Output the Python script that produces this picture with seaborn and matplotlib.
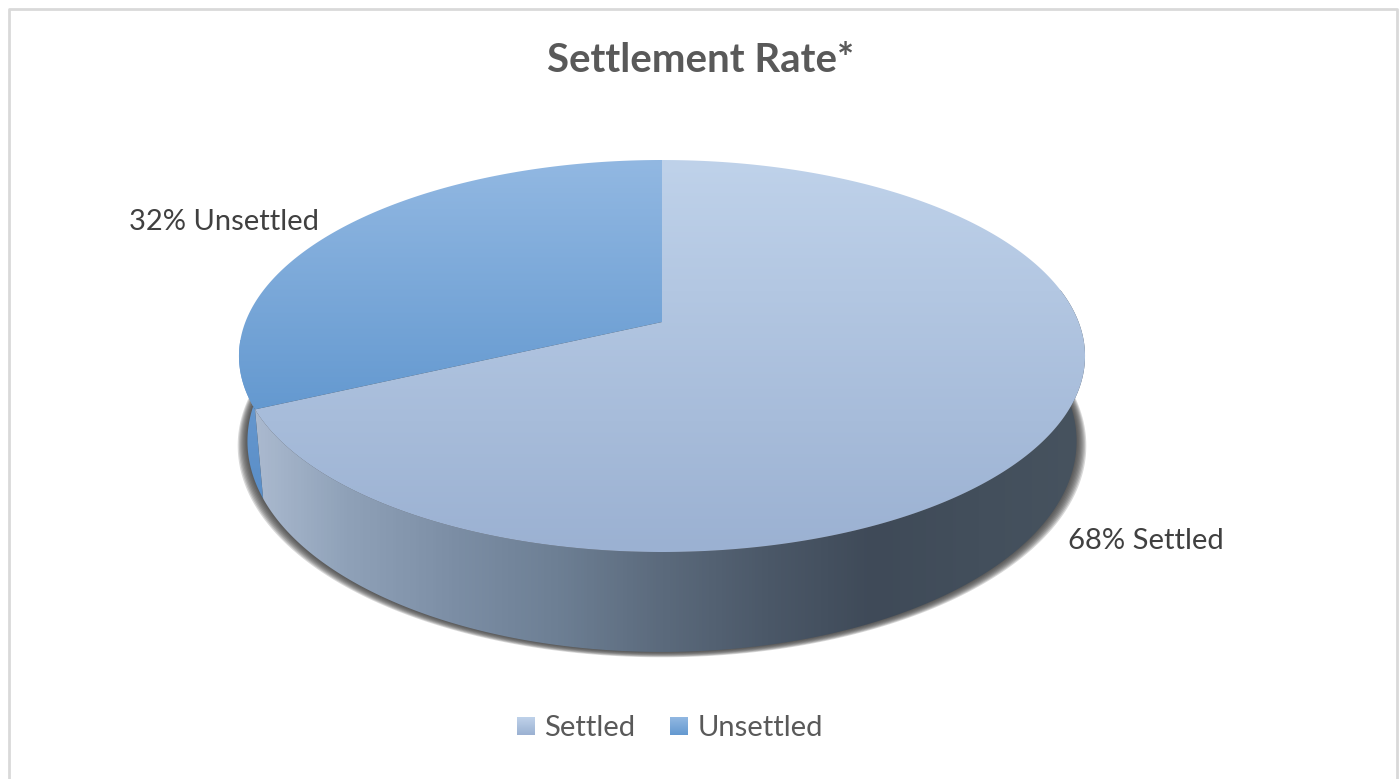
import numpy as np
import matplotlib
matplotlib.use("Agg")
import matplotlib.pyplot as plt
from matplotlib.patches import Polygon, Rectangle
import seaborn as sns

categories = ["Settled", "Unsettled"]
shares = [68, 32]
title = "Settlement Rate*"
data_labels = ["68% Settled", "32% Unsettled"]

sns.set_theme(style="white")
plt.rcParams['font.family'] = ['Lato', 'DejaVu Sans']

# pie geometry in picture pixels
cx, cy = 662, 322
a, b, k = 416.6, 190.1, 0.1735
depth = 82.6
shrink = 0.98


def project(theta, z=0.0, s=1.0):
    # theta runs clockwise from 12 o'clock, z goes down to the pie's underside
    X, Y = np.sin(theta), np.cos(theta)
    w = 1 + k * Y
    return cx + s * a * X / w, cy + (-b * Y + z) / w


def gradient(ax, cmap, extent, clip, vertical=True, z=2):
    ramp = np.linspace(0, 1, 256)
    ramp = ramp[:, None] if vertical else ramp[None, :]
    im = ax.imshow(ramp, cmap=cmap, extent=extent, aspect="auto", origin="upper",
                   interpolation="bilinear", zorder=z)
    clip.set_transform(ax.transData)
    im.set_clip_path(clip)
    return im


fig = plt.figure(figsize=(14, 7.79), dpi=100)
ax = fig.add_axes([0, 0, 1, 1])
ax.axis("off")

# outer chart border, open at the bottom
ax.plot([8.5, 8.5, 1396.5, 1396.5], [779, 8.5, 8.5, 779], color="#d9d9d9", lw=2, zorder=1)

top_cmaps = [sns.blend_palette(["#bfd2ea", "#9bb1d2"], as_cmap=True),
             sns.blend_palette(["#92b8e2", "#6499d0"], as_cmap=True)]
side_cmap = sns.blend_palette(["#aebdd2", "#8fa1b8", "#7c8ea5", "#6d7f94", "#5b6a7c", "#4b5868",
                               "#3f4a58", "#434f5c", "#47535f"], as_cmap=True)
unsettled_side = sns.blend_palette(["#6d9dd2", "#5a8ec8"], as_cmap=True)

fractions = np.array(shares) / sum(shares)
ends = np.cumsum(fractions) * 2 * np.pi
starts = ends - fractions * 2 * np.pi

# soft shadow below the pie, grows outward layer by layer
t = np.linspace(0, 2 * np.pi, 400)
for d in np.arange(8, -1, -1):
    sx, sy = project(t, z=depth + d * 0.55, s=shrink + d * 1.2 / a)
    ax.add_patch(Polygon(np.c_[sx, sy], closed=True, fc="#404040", ec="none",
                         alpha=0.2, zorder=2))

# side walls: settled goes round the front, unsettled is the sliver on the left
t = np.linspace(starts[0] + np.radians(80), ends[0], 300)
tx, ty = project(t)
bx, by = project(t, z=depth, s=shrink)
gradient(ax, side_cmap, (240, 1086, 700, 150), Polygon(np.r_[np.c_[tx, ty], np.c_[bx, by][::-1]]),
         vertical=False, z=3)

t = np.linspace(ends[0], ends[0] + np.radians(35), 100)
tx, ty = project(t)
bx, by = project(t, z=depth, s=shrink)
gradient(ax, unsettled_side, (230, 280, 500, 340), Polygon(np.r_[np.c_[tx, ty], np.c_[bx, by][::-1]]), z=3)

# top faces, drawn from the shares
for start, end, cmap, ymax in zip(starts, ends, top_cmaps, [552, 410]):
    t = np.linspace(start, end, 400)
    px, py = project(t)
    pts = np.r_[[[cx, cy]], np.c_[px, py]]
    gradient(ax, cmap, (230, 1095, ymax, 160), Polygon(pts, closed=True), z=4)

ax.text(701, 60, title, ha="center", va="center", fontsize=28.9, fontweight="bold", color="#595959", zorder=6)
ax.text(129, 222, data_labels[1], ha="left", va="center", fontsize=21, color="#404040", zorder=6)
ax.text(1068, 541, data_labels[0], ha="left", va="center", fontsize=21, color="#404040", zorder=6)

# legend with little gradient swatches
for name, cmap, x0, xt in zip(categories, top_cmaps, [517, 670], [544, 698]):
    gradient(ax, cmap, (x0, x0 + 18, 735, 717), Rectangle((x0, 717), 18, 18), z=6)
    ax.text(xt, 728, name, ha="left", va="center", fontsize=21, color="#595959", zorder=6)

ax.set_xlim(0, 1400)
ax.set_ylim(779, 0)
fig.savefig("out.png", dpi=100, facecolor="white")
